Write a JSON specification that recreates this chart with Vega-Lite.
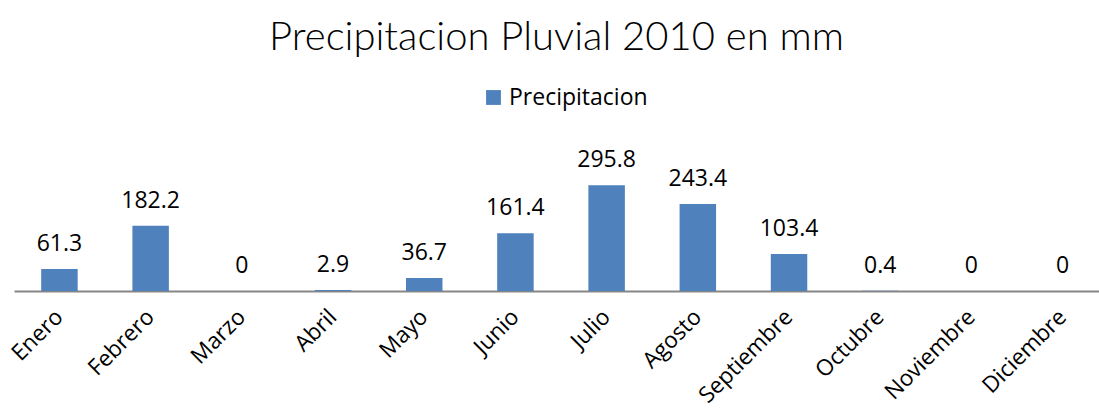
{
  "$schema": "https://vega.github.io/schema/vega-lite/v6.json",
  "width": 1085,
  "height": 143,
  "autosize": {"type": "none"},
  "padding": {"left": 14, "top": 148, "right": 0, "bottom": 123},
  "background": "white",
  "title": {
    "text": "Precipitacion Pluvial 2010 en mm",
    "fontSize": 40,
    "font": "Lato",
    "fontWeight": 300,
    "color": "#000000",
    "anchor": "middle",
    "offset": 28
  },
  "config": {
    "view": {"stroke": null},
    "font": "Open Sans"
  },
  "data": {
    "values": [
      {"mes": "Enero", "valor": 61.3, "serie": "Precipitacion"},
      {"mes": "Febrero", "valor": 182.2, "serie": "Precipitacion"},
      {"mes": "Marzo", "valor": 0, "serie": "Precipitacion"},
      {"mes": "Abril", "valor": 2.9, "serie": "Precipitacion"},
      {"mes": "Mayo", "valor": 36.7, "serie": "Precipitacion"},
      {"mes": "Junio", "valor": 161.4, "serie": "Precipitacion"},
      {"mes": "Julio", "valor": 295.8, "serie": "Precipitacion"},
      {"mes": "Agosto", "valor": 243.4, "serie": "Precipitacion"},
      {"mes": "Septiembre", "valor": 103.4, "serie": "Precipitacion"},
      {"mes": "Octubre", "valor": 0.4, "serie": "Precipitacion"},
      {"mes": "Noviembre", "valor": 0, "serie": "Precipitacion"},
      {"mes": "Diciembre", "valor": 0, "serie": "Precipitacion"}
    ]
  },
  "encoding": {
    "x": {
      "field": "mes",
      "type": "nominal",
      "sort": null,
      "scale": {"paddingInner": 0.6, "paddingOuter": 0.2485, "align": 0.6},
      "axis": {
        "title": null,
        "labelAngle": -45,
        "labelAlign": "right",
        "labelBaseline": "middle",
        "labelFontSize": 22.5,
        "labelFont": "Open Sans",
        "labelColor": "#000000",
        "labelPadding": 22,
        "ticks": false,
        "domainColor": "#868686",
        "domainWidth": 2
      }
    },
    "y": {
      "field": "valor",
      "type": "quantitative",
      "scale": {"domain": [0, 400]},
      "axis": null
    }
  },
  "layer": [
    {
      "mark": {"type": "bar", "color": "#4F81BD"},
      "encoding": {
        "color": {
          "field": "serie",
          "type": "nominal",
          "scale": {"range": ["#4F81BD"]},
          "legend": {
            "title": null,
            "orient": "none",
            "legendX": 468,
            "legendY": -62,
            "symbolType": "square",
            "symbolSize": 220,
            "symbolOpacity": 1,
            "labelFontSize": 23,
            "labelFont": "Open Sans",
            "labelColor": "#000000"
          }
        }
      }
    },
    {
      "mark": {"type": "text", "baseline": "bottom", "dy": -13, "fontSize": 23, "font": "Open Sans", "color": "#000000"},
      "encoding": {
        "text": {"field": "valor", "type": "quantitative"}
      }
    }
  ]
}
